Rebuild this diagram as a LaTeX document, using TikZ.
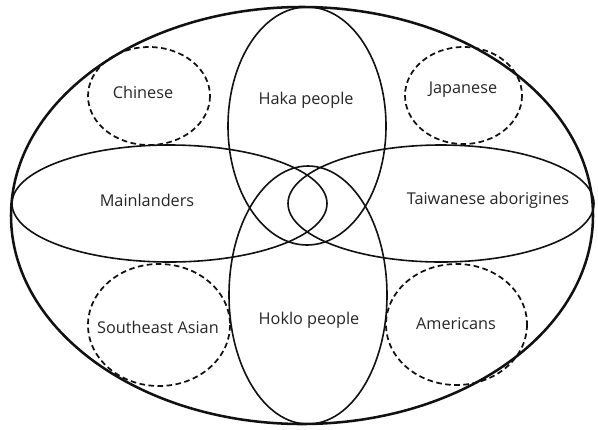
\documentclass[tikz,border=0pt]{standalone}
\usepackage{fontspec}
\setmainfont{Open Sans}
\usetikzlibrary{positioning}
\definecolor{ink}{HTML}{111111}
\definecolor{lbl}{HTML}{262626}

\begin{document}
\begin{tikzpicture}[x=0.75pt, y=-0.75pt,
    outer/.style={ink, line width=1.9pt},
    group/.style={ink, line width=1.2pt},
    minor/.style={ink, line width=1.3pt, dash pattern=on 4.2pt off 2.6pt},
    tag/.style={text=lbl, font=\fontsize{12.2}{14}\selectfont, inner sep=0pt}]
  \useasboundingbox (0,0) rectangle (598,429);
  % whole population
  \draw[outer] (302,215.5) ellipse [x radius=291, y radius=208.5];
  % vertical groups
  \draw[group] (307,126) ellipse [x radius=79, y radius=119];
  \draw[group] (308,295) ellipse [x radius=79, y radius=129];
  % horizontal groups
  \draw[group] (169.5,203.5) ellipse [x radius=157.5, y radius=58.5];
  \draw[group] (441,203.5) ellipse [x radius=153, y radius=58.5];
  % foreign groups (dashed)
  \draw[minor] (149,96) ellipse [x radius=61, y radius=49];
  \draw[minor] (463.5,95.5) ellipse [x radius=58.5, y radius=48.5];
  \draw[minor] (159,325) ellipse [x radius=71, y radius=61];
  \draw[minor] (456.5,324.5) ellipse [x radius=70.5, y radius=60.5];
  % labels
  \node[tag] (haka)     at (306,100) {Haka people};
  \node[tag] (hoklo)    at (309,320) {Hoklo people};
  \node[tag] (mainland) at (147,200) {Mainlanders};
  \node[tag] (aborig)   at (488,200) {Taiwanese aborigines};
  \node[tag] (chinese)  at (143,92)  {Chinese};
  \node[tag] (japanese) at (463,90)  {Japanese};
  \node[tag] (seasian)  at (158,327) {Southeast Asian};
  \node[tag] (american) at (456,324) {Americans};
\end{tikzpicture}
\end{document}
